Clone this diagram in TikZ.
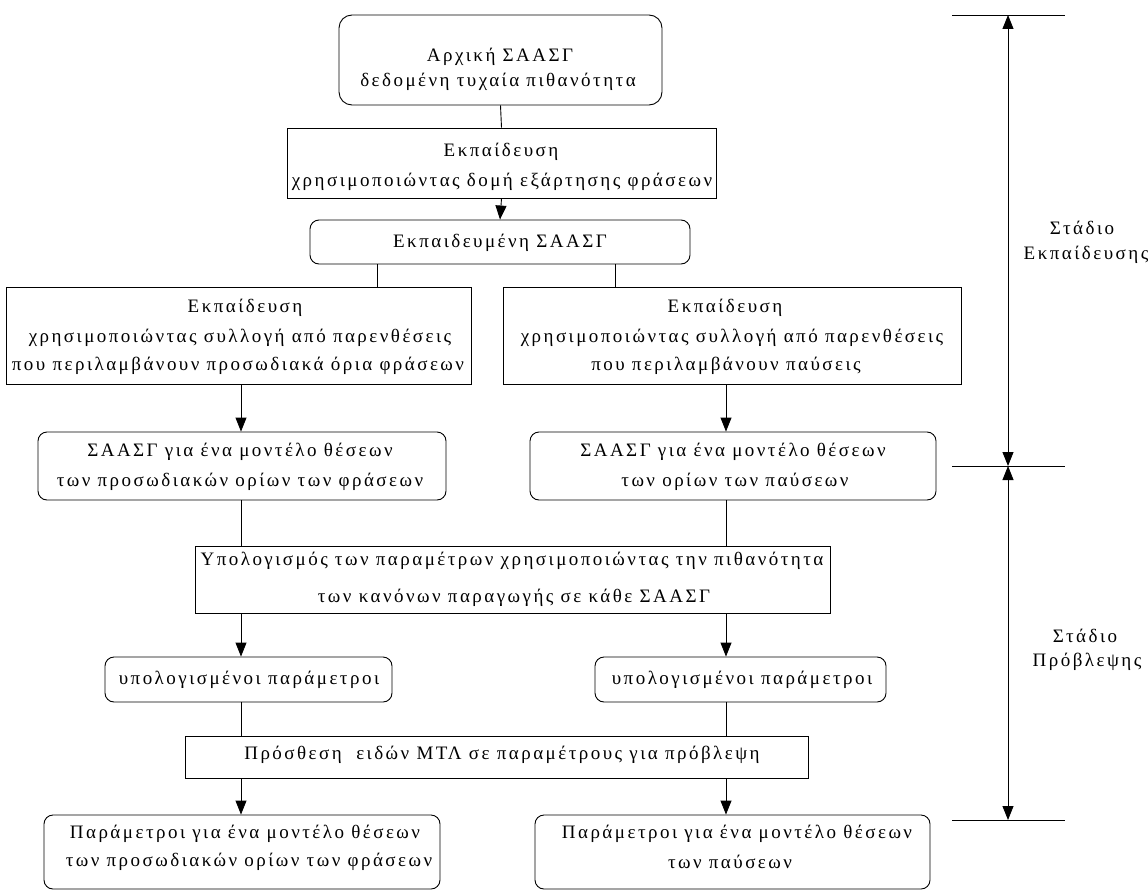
\documentclass[tikz,border=0pt]{standalone}
\usepackage{fontspec}
\setmainfont{Liberation Serif}[LetterSpace=13]
\usetikzlibrary{arrows.meta}
\tikzset{
  box/.style={draw, line width=0.9pt, inner sep=0pt},
  rbox/.style={box, rounded corners=9pt},
  txt/.style={inner sep=0pt, font=\fontsize{19}{24}\selectfont, anchor=center},
  conn/.style={line width=0.9pt},
  arr/.style={conn, -{Triangle[length=14pt,width=11pt]}},
  darr/.style={conn, {Triangle[length=14pt,width=11pt]}-{Triangle[length=14pt,width=11pt]}},
}
\begin{document}
\begin{tikzpicture}[x=1pt,y=-1pt]
\useasboundingbox (0,0) rectangle (1148,891);
\fill[white] (0,0) rectangle (1148,891);

% boxes
\node[rbox, rounded corners=13pt, minimum width=323pt, minimum height=90pt] (b1) at (500.5,60) {};
\node[box, minimum width=429pt, minimum height=70pt] (b2) at (501.5,163) {};
\node[rbox, minimum width=380pt, minimum height=44pt] (b3) at (500,242) {};
\node[box, minimum width=465pt, minimum height=97pt] (b4) at (238.5,336) {};
\node[box, minimum width=458pt, minimum height=97pt] (b5) at (732,336) {};
\node[rbox, minimum width=408pt, minimum height=68pt] (b6) at (242,466) {};
\node[rbox, minimum width=406pt, minimum height=68pt] (b7) at (733,466) {};
\node[box, minimum width=635pt, minimum height=67pt] (b8) at (512.5,579.5) {};
\node[rbox, minimum width=287pt, minimum height=45pt] (b9) at (248.5,679.5) {};
\node[rbox, minimum width=291pt, minimum height=45pt] (b10) at (740.5,679.5) {};
\node[box, minimum width=623pt, minimum height=42pt] (b11) at (496.5,757) {};
\node[rbox, minimum width=396pt, minimum height=74pt] (b12) at (242,852) {};
\node[rbox, minimum width=395pt, minimum height=74pt] (b13) at (732.5,852) {};

% texts
\node[txt] (t1a) at (500,57) {Αρχική ΣΑΑΣΓ};
\node[txt] (t1b) at (498,82) {δεδομένη τυχαία πιθανότητα};
\node[txt] (t2a) at (501,152) {Εκπαίδευση};
\node[txt] (t2b) at (502,182) {χρησιμοποιώντας δομή εξάρτησης φράσεων};
\node[txt] (t3) at (500,243) {Εκπαιδευμένη ΣΑΑΣΓ};
\node[txt] (t4a) at (245,308) {Εκπαίδευση};
\node[txt] (t4b) at (240,338) {χρησιμοποιώντας συλλογή από παρενθέσεις};
\node[txt] (t4c) at (238,366) {που περιλαμβάνουν προσωδιακά όρια φράσεων};
\node[txt] (t5a) at (725,308) {Εκπαίδευση};
\node[txt] (t5b) at (732,338) {χρησιμοποιώντας συλλογή από παρενθέσεις};
\node[txt] (t5c) at (726,366) {που περιλαμβάνουν παύσεις};
\node[txt] (t6a) at (240,452) {ΣΑΑΣΓ για ένα μοντέλο θέσεων};
\node[txt] (t6b) at (240,482) {των προσωδιακών ορίων των φράσεων};
\node[txt] (t7a) at (733,452) {ΣΑΑΣΓ για ένα μοντέλο θέσεων};
\node[txt] (t7b) at (735,482) {των ορίων των παύσεων};
\node[txt] (t8a) at (512,561) {Υπολογισμός των παραμέτρων χρησιμοποιώντας την πιθανότητα};
\node[txt] (t8b) at (514,598) {των κανόνων παραγωγής σε κάθε ΣΑΑΣΓ};
\node[txt] (t9) at (249,680) {υπολογισμένοι παράμετροι};
\node[txt] (t10) at (742,680) {υπολογισμένοι παράμετροι};
\node[txt] (t11) at (502,755) {Πρόσθεση\ \ ειδών ΜΤΛ σε παραμέτρους για πρόβλεψη};
\node[txt] (t12a) at (245,834) {Παράμετροι για ένα μοντέλο θέσεων};
\node[txt] (t12b) at (249,862) {των προσωδιακών ορίων των φράσεων};
\node[txt] (t13a) at (737,834) {Παράμετροι για ένα μοντέλο θέσεων};
\node[txt] (t13b) at (730,862) {των παύσεων};

% connectors
\draw[conn] (b1.south) -- (b2.north);
\draw[arr] (b2.south) -- (b3.north);
\draw[conn] (b3.south -| 377,0) -- (b4.north -| 377,0);
\draw[conn] (b3.south -| 615,0) -- (b5.north -| 615,0);
\draw[arr] (b4.south -| 241,0) -- (b6.north -| 241,0);
\draw[arr] (b5.south -| 726,0) -- (b7.north -| 726,0);
\draw[conn] (b6.south -| 241,0) -- (b8.north -| 241,0);
\draw[conn] (b7.south -| 726,0) -- (b8.north -| 726,0);
\draw[arr] (b8.south -| 241,0) -- (b9.north -| 241,0);
\draw[arr] (b8.south -| 726,0) -- (b10.north -| 726,0);
\draw[conn] (b9.south -| 241,0) -- (b11.north -| 241,0);
\draw[conn] (b10.south -| 726,0) -- (b11.north -| 726,0);
\draw[arr] (b11.south -| 241,0) -- (b12.north -| 241,0);
\draw[arr] (b11.south -| 726,0) -- (b13.north -| 726,0);

% stage ruler
\coordinate (r1) at (1008,15);
\coordinate (r2) at (1008,466);
\coordinate (r3) at (1008,820);
\draw[conn] (952,15) -- (1065,15);
\draw[conn] (952,466) -- (1065,466);
\draw[conn] (952,820) -- (1065,820);
\draw[darr] (r1) -- (r2);
\draw[darr] (r2) -- (r3);
\node[txt] (s1a) at (1082,228) {Στάδιο};
\node[txt] (s1b) at (1086,255) {Εκπαίδευσης};
\node[txt] (s2a) at (1085,636) {Στάδιο};
\node[txt] (s2b) at (1087,662) {Πρόβλεψης};
\end{tikzpicture}
\end{document}
